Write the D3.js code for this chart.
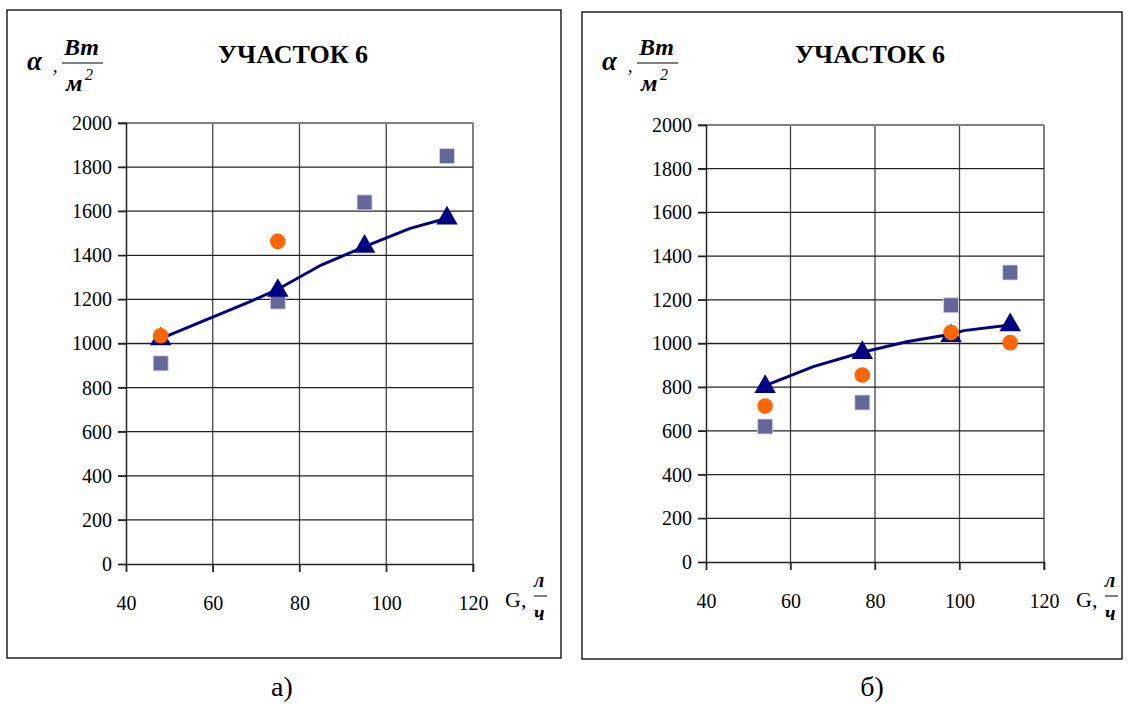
<!DOCTYPE html>
<html>
<head>
<meta charset="utf-8">
<script src="https://cdn.jsdelivr.net/npm/d3@7"></script>
<style>
  body { margin: 0; background: #fff; }
  svg text { font-family: 'Liberation Serif', 'Times New Roman', 'DejaVu Serif', serif; }
</style>
</head>
<body>
<div id="chart"></div>
<script>
// shared axes
const xTicks = [40, 60, 80, 100, 120];
const yTicks = [0, 200, 400, 600, 800, 1000, 1200, 1400, 1600, 1800, 2000];
const titleText = 'УЧАСТОК 6';

// panel a)
const aSquareX = [48, 75, 95, 114];
const aSquareY = [910, 1190, 1640, 1850];
const aCircleX = [48, 75];
const aCircleY = [1035, 1463];
const aTriX = [48, 75, 95, 114];
const aTriY = [1020, 1240, 1440, 1568];
const aLineX = [48, 68.6, 75, 85, 95, 105.5, 114];
const aLineY = [1022, 1190, 1246, 1356, 1439, 1522, 1568];

// panel б)
const bSquareX = [54, 77, 98, 112];
const bSquareY = [620, 730, 1175, 1325];
const bCircleX = [54, 77, 98, 112];
const bCircleY = [714, 856, 1050, 1004];
const bTriX = [54, 77, 98, 112];
const bTriY = [802, 958, 1035, 1085];
const bLineX = [54, 65.4, 77, 87.5, 98, 101, 112];
const bLineY = [807, 894, 960, 1008, 1042, 1059, 1085];

const zip = (xs, ys) => xs.map((x, i) => [x, ys[i]]);

const svg = d3.select('#chart')
  .append('svg')
  .attr('width', 1128)
  .attr('height', 704);

function drawPanel(p) {
  // outer frame
  svg.append('rect')
    .attr('x', p.frame[0]).attr('y', p.frame[1])
    .attr('width', p.frame[2]).attr('height', p.frame[3])
    .attr('fill', '#fff').attr('stroke', '#000').attr('stroke-width', 1.3);

  const x = d3.scaleLinear().domain([40, 120]).range([p.left, p.right]);
  const y = d3.scaleLinear().domain([0, 2000]).range([p.bottom, p.top]);

  const g = svg.append('g');

  // vertical grid
  g.selectAll('.vg').data(xTicks.slice(1)).enter().append('line')
    .attr('x1', d => x(d)).attr('x2', d => x(d))
    .attr('y1', p.top).attr('y2', p.bottom + 8)
    .attr('stroke', d => d === 120 ? '#808080' : '#444').attr('stroke-width', d => d === 120 ? 2 : 1.3);
  // horizontal grid
  g.selectAll('.hg').data(yTicks.slice(1)).enter().append('line')
    .attr('x1', p.left - 8).attr('x2', p.right)
    .attr('y1', d => y(d)).attr('y2', d => y(d))
    .attr('stroke', d => d === 2000 ? '#808080' : '#222').attr('stroke-width', d => d === 2000 ? 2 : 1.3);

  // axes
  const xAxis = g.append('g')
    .attr('transform', 'translate(0,' + p.bottom + ')')
    .call(d3.axisBottom(x).tickValues(xTicks).tickFormat(d3.format('d')).tickSize(8).tickPadding(24));
  const yAxis = g.append('g')
    .attr('transform', 'translate(' + p.left + ',0)')
    .call(d3.axisLeft(y).tickValues(yTicks).tickFormat(d3.format('d')).tickSize(8).tickPadding(6));
  [xAxis, yAxis].forEach(a => {
    a.attr('font-family', null);
    a.select('.domain').attr('stroke', '#222').attr('stroke-width', 1.5);
    a.selectAll('.tick line').attr('stroke', '#222').attr('stroke-width', 1.3);
    a.selectAll('text').attr('font-size', 20).attr('fill', '#000');
  });

  // squares
  g.selectAll('.sq').data(zip(p.sqX, p.sqY)).enter().append('path')
    .attr('d', d3.symbol(d3.symbolSquare, 225))
    .attr('transform', d => 'translate(' + x(d[0]) + ',' + y(d[1]) + ')')
    .attr('fill', '#666699').attr('stroke', '#d8d8ea').attr('stroke-width', 0.8);

  // trend line
  g.append('path')
    .datum(zip(p.lnX, p.lnY))
    .attr('d', d3.line().x(d => x(d[0])).y(d => y(d[1])))
    .attr('fill', 'none').attr('stroke', '#000080').attr('stroke-width', 3);

  // triangles
  g.selectAll('.tri').data(zip(p.trX, p.trY)).enter().append('path')
    .attr('d', d3.symbol(d3.symbolTriangle, 200))
    .attr('transform', d => 'translate(' + x(d[0]) + ',' + y(d[1]) + ')')
    .attr('fill', '#000080');

  // circles
  g.selectAll('.ci').data(zip(p.ciX, p.ciY)).enter().append('circle')
    .attr('cx', d => x(d[0])).attr('cy', d => y(d[1])).attr('r', 7.8)
    .attr('fill', '#ff6600');

  // title
  svg.append('text')
    .attr('x', p.titleX).attr('y', 63)
    .attr('text-anchor', 'middle')
    .attr('font-size', 26).attr('font-weight', 'bold')
    .text(titleText);

  // y label: alpha , Bт / м2
  const yl = svg.append('g').attr('transform', 'translate(' + (p.frame[0] + 20) + ',0)');
  yl.append('text').attr('x', 0).attr('y', 70)
    .attr('font-size', 27).attr('font-weight', 'bold').attr('font-style', 'italic').text('α');
  yl.append('text').attr('x', 26).attr('y', 72).attr('font-size', 18).text(',');
  yl.append('text').attr('x', 37).attr('y', 55)
    .attr('font-size', 24).attr('font-weight', 'bold').attr('font-style', 'italic').text('Вт');
  yl.append('line').attr('x1', 35).attr('x2', 76).attr('y1', 63).attr('y2', 63)
    .attr('stroke', '#000').attr('stroke-width', 1);
  yl.append('text').attr('x', 39).attr('y', 91)
    .attr('font-size', 24).attr('font-weight', 'bold').attr('font-style', 'italic').text('м');
  yl.append('text').attr('x', 58).attr('y', 80).attr('font-size', 16).attr('font-style', 'italic').text('2');

  // x label: G, л / ч
  const xl = svg.append('g').attr('transform', 'translate(' + (p.right + 32) + ',0)');
  xl.append('text').attr('x', 0).attr('y', 607).attr('font-size', 22).text('G,');
  xl.append('text').attr('x', 29).attr('y', 587)
    .attr('font-size', 20).attr('font-weight', 'bold').attr('font-style', 'italic').text('л');
  xl.append('line').attr('x1', 29).attr('x2', 42).attr('y1', 596).attr('y2', 596)
    .attr('stroke', '#000').attr('stroke-width', 1);
  xl.append('text').attr('x', 29).attr('y', 620)
    .attr('font-size', 20).attr('font-weight', 'bold').attr('font-style', 'italic').text('ч');

  // panel caption
  svg.append('text')
    .attr('x', p.capX).attr('y', 696)
    .attr('text-anchor', 'middle')
    .attr('font-size', 28)
    .text(p.caption);
}

drawPanel({
  frame: [7, 10, 554, 648],
  left: 126, right: 473, top: 123, bottom: 564,
  sqX: aSquareX, sqY: aSquareY, ciX: aCircleX, ciY: aCircleY,
  trX: aTriX, trY: aTriY, lnX: aLineX, lnY: aLineY,
  titleX: 293, capX: 282, caption: 'а)'
});

drawPanel({
  frame: [582, 12, 540, 647],
  left: 706, right: 1044, top: 125, bottom: 562,
  sqX: bSquareX, sqY: bSquareY, ciX: bCircleX, ciY: bCircleY,
  trX: bTriX, trY: bTriY, lnX: bLineX, lnY: bLineY,
  titleX: 870, capX: 872, caption: 'б)'
});
</script>
</body>
</html>
